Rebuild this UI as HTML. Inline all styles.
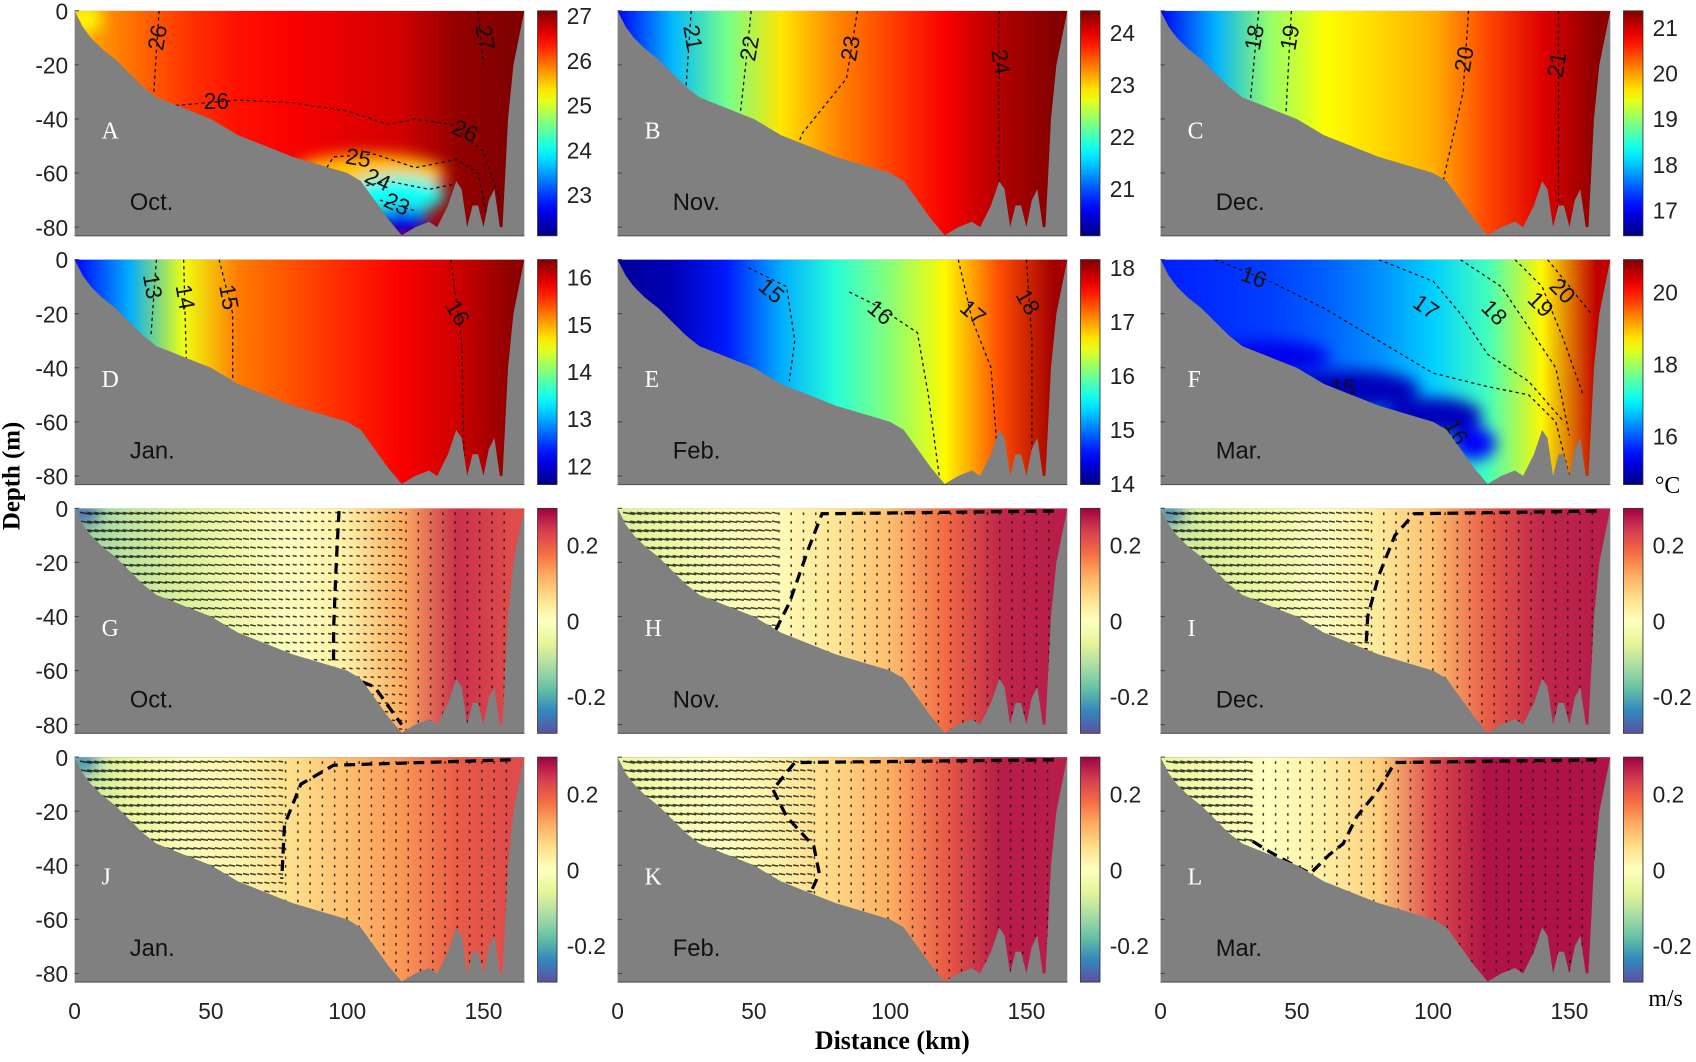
<!DOCTYPE html>
<html><head><meta charset="utf-8"><style>
html,body{margin:0;padding:0;background:#fff;}
svg text{font-family:"Liberation Sans",sans-serif;}
</style></head><body>
<svg id="fig" xmlns="http://www.w3.org/2000/svg" width="1696" height="1057" viewBox="0 0 1696 1057">
<defs>
<filter id="blur" x="-50%" y="-50%" width="200%" height="200%"><feGaussianBlur stdDeviation="7"/></filter>
</defs>
<rect width="1696" height="1057" fill="#fff"/>
<g transform="scale(1.0816)">
<g id="panels"></g>
<text x="0" y="0" transform="translate(18,440) rotate(-90)" text-anchor="middle" style="font-family:'Liberation Serif',serif;font-weight:bold;font-size:23px">Depth (m)</text>
<text x="825" y="970" text-anchor="middle" style="font-family:'Liberation Serif',serif;font-weight:bold;font-size:24px">Distance (km)</text>
<text x="1530" y="456" style="font-family:'Liberation Serif',serif;font-size:22px">°C</text>
<text x="1524" y="930" style="font-family:'Liberation Serif',serif;font-size:22px">m/s</text>
</g>
</svg>
<script>
// ---- data ----
const bathyDist  = [0,3,6,10,15,20,25,30,35,40,45,50,55,60,70,80,90,100,105,110,115,120,125,130,133,137,140,142,144,146,148,150,152,154,156,157];
const bathyDepth = [0,-6,-10,-14,-18,-23,-28,-32,-34,-36,-38,-40,-43,-46,-50,-54,-57,-60,-63,-70,-77,-83,-80,-78,-80,-72,-63,-66,-80,-72,-72,-80,-70,-66,-80,-80];
const wallDist  = [158,159,161,165];
const wallDepth = [-60,-40,-20,0];
const gradDist = [0,20,40,60,80,100,120,140,160];
const valA = [25.6,25.9,26.2,26.4,26.5,26.6,26.7,27.0,27.1];
const valB = [20.6,21.4,22.2,22.9,23.3,23.6,23.9,24.2,24.4];
const valC = [17.0,17.9,19.0,19.5,19.7,19.9,20.4,20.9,21.3];
const valD = [12.2,13.0,14.5,15.2,15.4,15.6,15.8,16.0,16.3];
const valE = [14.1,14.2,14.6,15.2,15.7,16.1,16.6,17.3,18.0];
const valF = [15.6,15.7,15.8,16.0,16.3,16.7,17.4,18.6,20.5];
const valG = [-0.14,-0.1,-0.07,-0.03,0.0,0.03,0.12,0.25,0.22];
const valH = [-0.07,-0.04,-0.01,0.01,0.05,0.1,0.18,0.26,0.27];
const valI = [-0.1,-0.07,-0.04,0.0,0.04,0.1,0.2,0.26,0.27];
const valJ = [-0.1,-0.05,-0.01,0.02,0.06,0.1,0.14,0.2,0.22];
const valK = [-0.05,-0.02,0.0,0.03,0.07,0.12,0.2,0.27,0.27];
const valL = [-0.05,-0.02,0.0,0.03,0.08,0.22,0.28,0.28,0.28];
// blobs: [dist, depth, rx(km), ry(m), value]
const blobsA = [[108,-60,28,7,25.5],[118,-68,18,7,24.0],[120,-78,10,5,22.6],[4,-3,6,5,25.2]];
const blobsF = [[40,-36,22,6,15.3],[70,-48,25,7,15.0],[100,-58,18,7,15.0],[115,-68,8,6,15.4]];
const blobsE = [];
const blobsG = [[3,-2,6,4,-0.27]];
const blobsI = [[3,-2,5,4,-0.25]];
const blobsJ = [[3,-2,5,4,-0.24]];
const tickA=[23,24,25,26,27], tickB=[21,22,23,24], tickC=[17,18,19,20,21], tickD=[12,13,14,15,16], tickE=[14,15,16,17,18], tickF=[16,18,20], tickV=[-0.2,0,0.2];
const rangeA=[22.08,27.1], rangeB=[20.08,24.42], rangeC=[16.43,21.36], rangeD=[11.6,16.37], rangeE=[13.98,18.14], rangeF=[14.64,20.9], rangeV=[-0.297,0.297];
// contours: [label, points, labelPos, rotation]
const contA=[["26",[[31,0],[30,-15],[29,-31]],[31,-10],-80],["26",[[37,-35],[60,-33],[80,-34],[100,-37],[115,-42],[125,-40],[138,-42],[150,-52],[156,-70]],[52,-34],0],["",[],[143,-45],25],["25",[[90,-62],[95,-54],[110,-53],[125,-58],[140,-55],[148,-60],[152,-80]],[104,-55],10],["24",[[100,-66],[115,-63],[130,-66],[140,-64]],[111,-63],25],["23",[[112,-70],[125,-74]],[118,-72],25],["27",[[148,0],[150,-20]],[150,-10],80]];
const contB=[["21",[[27,0],[25,-30]],[27,-10],80],["22",[[49,0],[47,-20],[45,-38]],[49,-14],-80],["23",[[88,0],[84,-25],[68,-45],[65,-52]],[86,-14],-80],["24",[[140,0],[140,-80]],[140,-19],80]];
const contC=[["18",[[36,0],[33,-33]],[35,-10],-80],["19",[[48,0],[46,-38]],[48,-10],-80],["20",[[113,0],[111,-30],[103,-66]],[112,-18],-80],["21",[[146,0],[146,-75]],[146,-20],-80]];
const contD=[["13",[[30,0],[28,-28]],[28,-10],80],["14",[[40,0],[41,-38]],[40,-14],80],["15",[[53,0],[58,-20],[58,-45]],[56,-14],80],["16",[[138,0],[142,-30],[143,-80]],[140,-20],60]];
const contE=[["15",[[48,-3],[62,-10],[65,-30],[63,-45]],[56,-12],40],["16",[[85,-12],[95,-17],[110,-27],[114,-50],[118,-80]],[96,-20],40],["17",[[125,0],[130,-22],[137,-40],[140,-80]],[130,-20],40],["18",[[150,0],[152,-30],[152,-70]],[150,-16],60]];
const contF=[["16",[[20,0],[40,-8],[60,-18],[80,-30],[100,-42],[120,-47],[135,-50],[145,-60],[150,-80]],[34,-7],20],["17",[[80,0],[100,-8],[110,-20],[120,-35],[135,-45],[148,-60]],[97,-18],35],["18",[[110,0],[125,-10],[135,-25],[145,-40],[150,-65]],[122,-20],45],["19",[[130,0],[140,-10],[148,-30],[155,-50]],[139,-17],45],["20",[[142,0],[150,-10],[158,-20]],[147,-12],45],["15",[],[67,-48],0],["16",[],[108,-64],60]];
const zeroG=[[97,-1],[96,-20],[95,-45],[95,-60],[110,-66],[120,-80]];
const zeroH=[[160,-1],[75,-2],[70,-15],[63,-35],[58,-45]];
const zeroI=[[160,-1],[93,-2],[86,-10],[80,-25],[76,-40],[75,-58]];
const zeroJ=[[160,-1],[95,-3],[83,-10],[77,-25],[76,-45]];
const zeroK=[[160,-1],[65,-2],[57,-12],[62,-22],[72,-33],[74,-43],[70,-52]];
const zeroL=[[160,-1],[86,-2],[80,-12],[72,-22],[67,-32],[62,-36],[55,-43],[49,-40],[40,-35],[32,-30]];
const cols=[69,571,1073], rows=[10,240,470,700];
const xTicks=[0,50,100,150], yTicks=[0,-20,-40,-60,-80];
const panelDefs=[
 {id:'A',month:'Oct.',c:0,r:0,vals:valA,range:rangeA,ticks:tickA,blobs:blobsA,cont:contA,temp:true},
 {id:'B',month:'Nov.',c:1,r:0,vals:valB,range:rangeB,ticks:tickB,blobs:[],cont:contB,temp:true},
 {id:'C',month:'Dec.',c:2,r:0,vals:valC,range:rangeC,ticks:tickC,blobs:[],cont:contC,temp:true},
 {id:'D',month:'Jan.',c:0,r:1,vals:valD,range:rangeD,ticks:tickD,blobs:[],cont:contD,temp:true},
 {id:'E',month:'Feb.',c:1,r:1,vals:valE,range:rangeE,ticks:tickE,blobs:blobsE,cont:contE,temp:true},
 {id:'F',month:'Mar.',c:2,r:1,vals:valF,range:rangeF,ticks:tickF,blobs:blobsF,cont:contF,temp:true},
 {id:'G',month:'Oct.',c:0,r:2,vals:valG,range:rangeV,ticks:tickV,blobs:blobsG,zero:zeroG,temp:false},
 {id:'H',month:'Nov.',c:1,r:2,vals:valH,range:rangeV,ticks:tickV,blobs:[],zero:zeroH,temp:false},
 {id:'I',month:'Dec.',c:2,r:2,vals:valI,range:rangeV,ticks:tickV,blobs:blobsI,zero:zeroI,temp:false},
 {id:'J',month:'Jan.',c:0,r:3,vals:valJ,range:rangeV,ticks:tickV,blobs:blobsJ,zero:zeroJ,temp:false},
 {id:'K',month:'Feb.',c:1,r:3,vals:valK,range:rangeV,ticks:tickV,blobs:[],zero:zeroK,temp:false},
 {id:'L',month:'Mar.',c:2,r:3,vals:valL,range:rangeV,ticks:tickV,blobs:[],zero:zeroL,temp:false}
];
// ---- colormaps ----
function cl(v){return Math.max(0,Math.min(1,v));}
function jet(t){t=cl(t);const r=cl(1.5-Math.abs(4*t-3)),g=cl(1.5-Math.abs(4*t-2)),b=cl(1.5-Math.abs(4*t-1));return `rgb(${Math.round(r*255)},${Math.round(g*255)},${Math.round(b*255)})`;}
const spec=['#5e4fa2','#3288bd','#66c2a5','#abdda4','#e6f598','#ffffbf','#fee08b','#fdae61','#f46d43','#d53e4f','#9e0142'];
function hex(h){return [parseInt(h.substr(1,2),16),parseInt(h.substr(3,2),16),parseInt(h.substr(5,2),16)];}
function spectral(t){t=cl(t)*10;const i=Math.min(9,Math.floor(t)),f=t-i;const a=hex(spec[i]),b=hex(spec[i+1]);return `rgb(${a.map((v,k)=>Math.round(v+(b[k]-v)*f)).join(',')})`;}
const NS='http://www.w3.org/2000/svg';
function mk(tag,attrs,parent){const e=document.createElementNS(NS,tag);for(const k in attrs)e.setAttribute(k,attrs[k]);if(parent)parent.appendChild(e);return e;}
const root=document.getElementById('panels');
const defs=document.querySelector('defs');
const KX=378/150, KY=2.5;
panelDefs.forEach(p=>{
  const x0=cols[p.c], y0=rows[p.r];
  const X=d=>x0+d*KX, Y=z=>y0-z*KY;
  const W=165*KX, H=83.2*KY;
  const cmap=p.temp?jet:spectral;
  const norm=v=>(v-p.range[0])/(p.range[1]-p.range[0]);
  const g=mk('g',{},root);
  
  
  const cp=mk('clipPath',{id:'clip'+p.id},defs);
  let pts=[[0,0],[165,0]];
  for(let i=wallDist.length-1;i>=0;i--)pts.push([wallDist[i],wallDepth[i]]);
  for(let i=bathyDist.length-1;i>=0;i--)pts.push([bathyDist[i],bathyDepth[i]]);
  const polyStr=pts.map(q=>X(q[0]).toFixed(1)+','+Y(q[1]).toFixed(1)).join(' ');
  mk('polygon',{points:polyStr},cp);
  const bg=mk('rect',{x:x0,y:y0,width:W,height:H,fill:'#808080'},g);
  
  
  const lg=mk('linearGradient',{id:'grad'+p.id,gradientUnits:'userSpaceOnUse',x1:X(0),y1:0,x2:X(160),y2:0},defs);
  gradDist.forEach((d,i)=>mk('stop',{offset:(d/160).toFixed(3),'stop-color':cmap(norm(p.vals[i]))},lg));
  const cg=mk('g',{'clip-path':`url(#clip${p.id})`},g);
  const water=mk('rect',{x:x0,y:y0,width:W,height:H,fill:`url(#grad${p.id})`},cg);
  
  
  const bl=mk('g',{filter:'url(#blur)'},cg);
  p.blobs.forEach(b=>{mk('ellipse',{cx:X(b[0]),cy:Y(b[1]),rx:b[2]*KX,ry:b[3]*KY,fill:cmap(norm(b[4]))},bl);});
  if(!p.temp){
    const vg=mk('g',{stroke:'#111','stroke-width':1.4,opacity:0.8},cg);
    
    
    const zx=p.zero[p.zero.length-1][0];
    for(let d=2; d<160; d+= (d<zx?2.6:4.5)){
      for(let z=-1.5; z>-84; z-=3.2){
        if(d<zx){
          const L=Math.max(3,11-d*0.09);
          mk('line',{x1:X(d),y1:Y(z),x2:X(d)+L,y2:Y(z)+L*0.18},vg);
        } else {
          mk('line',{x1:X(d),y1:Y(z),x2:X(d),y2:Y(z)+2.5},vg);
        }
      }
    }
    const zl=mk('polyline',{points:p.zero.map(q=>X(q[0])+','+Y(q[1])).join(' '),fill:'none',stroke:'#000','stroke-width':3,'stroke-dasharray':'10,6'},cg);
    
    
  } else {
    p.cont.forEach(c=>{
      if(c[1].length){
        const l=mk('polyline',{points:c[1].map(q=>X(q[0])+','+Y(q[1])).join(' '),fill:'none',stroke:'#111','stroke-width':1.2,'stroke-dasharray':'3,3'},cg);
        
        
      }
      const t=mk('text',{x:X(c[2][0]),y:Y(c[2][1]),'font-size':21,'text-anchor':'middle','dominant-baseline':'middle',fill:'#111',transform:`rotate(${c[3]} ${X(c[2][0])} ${Y(c[2][1])})`},cg);
      t.textContent=c[0]||(p.id==='A'?'26':'');
      
      
    });
  }
  mk('line',{x1:x0,y1:y0+H,x2:x0+W,y2:y0+H,stroke:'#555','stroke-width':1},g);
  const lt=mk('text',{x:x0+25,y:y0+118,'font-size':22,fill:'#fff',style:"font-family:'Liberation Serif',serif"},g);
  lt.textContent=p.id;
  
  
  const mt=mk('text',{x:x0+51,y:y0+184,'font-size':22,fill:'#111'},g);
  mt.textContent=p.month;
  
  
  yTicks.forEach(v=>{
    mk('line',{x1:x0,y1:Y(v),x2:x0+4,y2:Y(v),stroke:'#444'},g);
    if(p.c!==0) return;
    const t=mk('text',{x:x0-6,y:Y(v)+8,'font-size':21,'text-anchor':'end',fill:'#222'},g);
    t.textContent=v;
    
    
  });
  if(p.r===3){
    xTicks.forEach(v=>{
      const t=mk('text',{x:X(v),y:y0+242,'font-size':21,'text-anchor':'middle',fill:'#222'},g);
      t.textContent=v;
      
      
    });
  }
  const cbx=x0+428, cbw=18;
  const cgd=mk('linearGradient',{id:'cb'+p.id,x1:0,y1:1,x2:0,y2:0},defs);
  for(let i=0;i<=20;i++)mk('stop',{offset:i/20,'stop-color':cmap(i/20)},cgd);
  const cb=mk('rect',{x:cbx,y:y0,width:cbw,height:H,fill:`url(#cb${p.id})`,stroke:'#333','stroke-width':0.8},g);
  
  
  p.ticks.forEach(v=>{
    const yy=y0+H-norm(v)*H;
    const t=mk('text',{x:cbx+cbw+9,y:yy+8,'font-size':21,fill:'#222'},g);
    t.textContent=v;
    
    
  });
});
</script>
</body></html>
